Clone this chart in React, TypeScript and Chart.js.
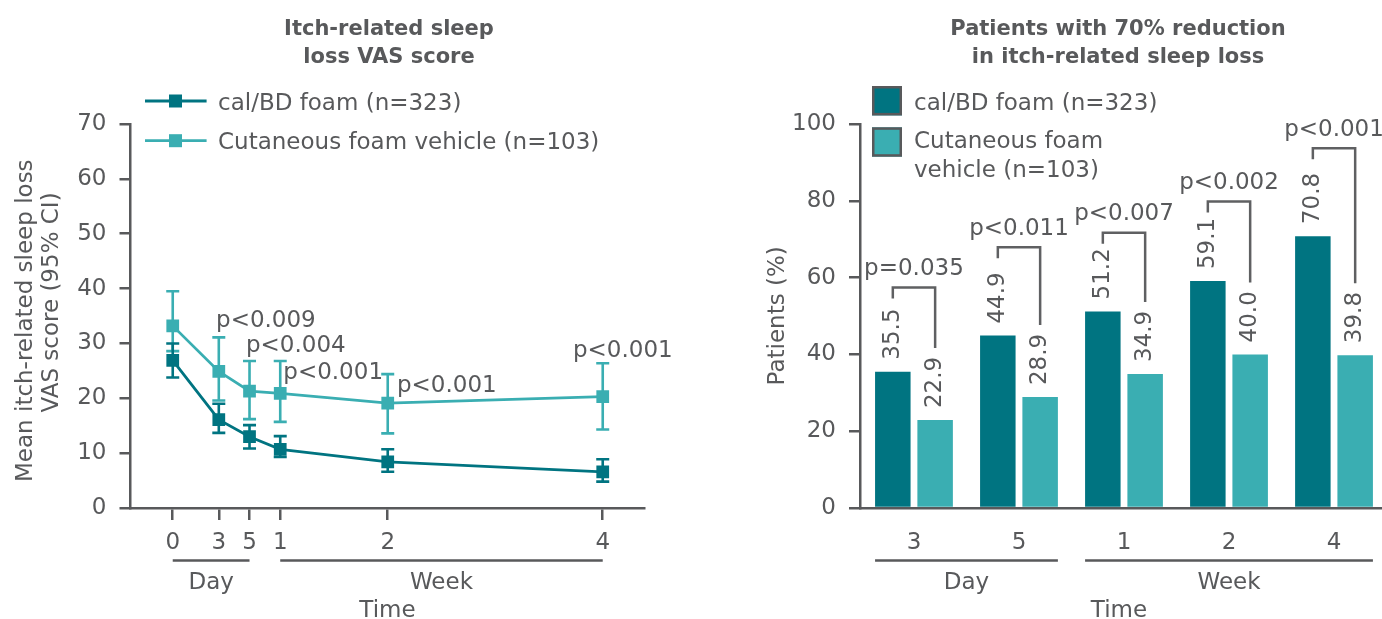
import React, { useEffect, useRef } from "react";
import { Chart, registerables } from "chart.js";

Chart.register(...registerables);

const FONT = "'DejaVu Sans', sans-serif";
const TEXT = "#58595b";
const AXIS = "#58595b";
const DARK = "#007481";
const LIGHT = "#3aaeb2";
const FS = 23;

// ---------- Left chart data ----------
const lineSeriesNames = ["cal/BD foam (n=323)", "Cutaneous foam vehicle (n=103)"];
const visitDays = [0, 3, 5, 7, 14, 28];
const visitTickLabels = ["0", "3", "5", "1", "2", "4"];
const calMean = [26.9, 16.1, 13.0, 10.7, 8.4, 6.6];
const calLow = [23.8, 13.7, 10.85, 9.3, 6.6, 4.8];
const calHigh = [30.0, 19.0, 15.1, 13.1, 10.7, 8.9];
const vehMean = [33.2, 24.9, 21.3, 20.9, 19.1, 20.3];
const vehLow = [28.6, 19.6, 16.2, 15.7, 13.6, 14.3];
const vehHigh = [39.5, 31.1, 26.8, 26.8, 24.4, 26.4];
const lineYTicks = [0, 70, 10];
const linePLabels = ["p<0.009", "p<0.004", "p<0.001", "p<0.001", "p<0.001"];
const linePAnchorDay = [2.82, 4.77, 7.2, 14.6, 26.06];
const linePAnchorValue = [32.94, 28.35, 23.5, 21.1, 27.5];
const lineGroupLabels = ["Day", "Week"];
const lineGroupFrom = [0, 7];
const lineGroupTo = [5, 28];

// ---------- Right chart data ----------
const barSeriesNames = ["cal/BD foam (n=323)", "Cutaneous foam vehicle (n=103)"];
const barCategories = ["3", "5", "1", "2", "4"];
const barCal = [35.5, 44.9, 51.2, 59.1, 70.8];
const barVeh = [22.9, 28.9, 34.9, 40.0, 39.8];
const barPLabels = ["p=0.035", "p<0.011", "p<0.007", "p<0.002", "p<0.001"];
const barBracketTop = [57.4, 67.9, 71.7, 79.8, 93.7];
const barGroupLabels = ["Day", "Week"];
const barGroupFrom = [0, 2];
const barGroupTo = [1, 4];

function drawText(
  ctx: CanvasRenderingContext2D,
  s: string,
  x: number,
  y: number,
  o: { font?: string; align?: CanvasTextAlign; baseline?: CanvasTextBaseline; color?: string; rotate?: number } = {}
) {
  ctx.save();
  ctx.font = o.font || `${FS}px ${FONT}`;
  ctx.fillStyle = o.color || TEXT;
  ctx.textAlign = o.align || "left";
  ctx.textBaseline = o.baseline || "alphabetic";
  ctx.translate(x, y);
  if (o.rotate) ctx.rotate(o.rotate);
  ctx.fillText(s, 0, 0);
  ctx.restore();
}

function hLine(ctx: CanvasRenderingContext2D, x1: number, x2: number, y: number, color = AXIS, w = 2.5) {
  ctx.save();
  ctx.strokeStyle = color;
  ctx.lineWidth = w;
  ctx.beginPath();
  ctx.moveTo(x1, y);
  ctx.lineTo(x2, y);
  ctx.stroke();
  ctx.restore();
}

const TITLE_FONT = `bold 21px ${FONT}`;

const leftPlugin = {
  id: "leftDecor",
  beforeDatasetsDraw(chart: any) {
    const ctx: CanvasRenderingContext2D = chart.ctx;
    const xs = chart.scales.x;
    const ys = chart.scales.y;
    const sets = [
      { lo: calLow, hi: calHigh, color: DARK },
      { lo: vehLow, hi: vehHigh, color: LIGHT },
    ];
    ctx.save();
    ctx.lineWidth = 2.6;
    for (let s = sets.length - 1; s >= 0; s--) {
      const set = sets[s];
      ctx.strokeStyle = set.color;
      visitDays.forEach((d, i) => {
        const x = xs.getPixelForValue(d);
        const y1 = ys.getPixelForValue(set.lo[i]);
        const y2 = ys.getPixelForValue(set.hi[i]);
        ctx.beginPath();
        ctx.moveTo(x, y1);
        ctx.lineTo(x, y2);
        ctx.moveTo(x - 6.5, y1);
        ctx.lineTo(x + 6.5, y1);
        ctx.moveTo(x - 6.5, y2);
        ctx.lineTo(x + 6.5, y2);
        ctx.stroke();
      });
    }
    ctx.restore();
  },
  afterDraw(chart: any) {
    const ctx: CanvasRenderingContext2D = chart.ctx;
    const xs = chart.scales.x;
    const ys = chart.scales.y;
    drawText(ctx, "Itch-related sleep", 389, 35, { font: TITLE_FONT, align: "center" });
    drawText(ctx, "loss VAS score", 389, 62.7, { font: TITLE_FONT, align: "center" });
    const colors = [DARK, LIGHT];
    const rowY = [101, 140.7];
    lineSeriesNames.forEach((name, i) => {
      hLine(ctx, 145, 206.6, rowY[i], colors[i], 2.8);
      ctx.save();
      ctx.fillStyle = colors[i];
      ctx.fillRect(175.5 - 6.5, rowY[i] - 6.5, 13, 13);
      ctx.restore();
      drawText(ctx, name, 218, rowY[i] + 8.5);
    });
    drawText(ctx, "Mean itch-related sleep loss", 31.5, 320.7, { align: "center", rotate: -Math.PI / 2 });
    drawText(ctx, "VAS score (95% CI)", 58, 302.5, { align: "center", rotate: -Math.PI / 2 });
    linePLabels.forEach((p, i) => {
      drawText(ctx, p, xs.getPixelForValue(linePAnchorDay[i]), ys.getPixelForValue(linePAnchorValue[i]));
    });
    lineGroupLabels.forEach((g, i) => {
      const x1 = xs.getPixelForValue(lineGroupFrom[i]);
      const x2 = xs.getPixelForValue(lineGroupTo[i]);
      hLine(ctx, x1, x2, 560.5);
      drawText(ctx, g, (x1 + x2) / 2, 589, { align: "center" });
    });
    drawText(ctx, "Time", (chart.chartArea.left + chart.chartArea.right) / 2, 617, { align: "center" });
  },
};

const rightPlugin = {
  id: "rightDecor",
  afterDatasetsDraw(chart: any) {
    const ctx: CanvasRenderingContext2D = chart.ctx;
    const ys = chart.scales.y;
    const m0 = chart.getDatasetMeta(0).data;
    const m1 = chart.getDatasetMeta(1).data;
    const vals = [barCal, barVeh];
    [m0, m1].forEach((meta: any[], s) => {
      meta.forEach((bar: any, i: number) => {
        drawText(ctx, vals[s][i].toFixed(1), bar.x, bar.y - 12, {
          baseline: "middle",
          rotate: -Math.PI / 2,
        });
      });
    });
    ctx.save();
    ctx.strokeStyle = "#5f6062";
    ctx.lineWidth = 2.5;
    barCategories.forEach((_, i) => {
      const a = m0[i];
      const b = m1[i];
      const top = ys.getPixelForValue(barBracketTop[i]);
      ctx.beginPath();
      ctx.moveTo(a.x, top + 11);
      ctx.lineTo(a.x, top);
      ctx.lineTo(b.x, top);
      ctx.lineTo(b.x, b.y - 72);
      ctx.stroke();
    });
    ctx.restore();
    barCategories.forEach((_, i) => {
      const top = ys.getPixelForValue(barBracketTop[i]);
      drawText(ctx, barPLabels[i], (m0[i].x + m1[i].x) / 2, top - 12.5, { align: "center" });
    });
  },
  afterDraw(chart: any) {
    const ctx: CanvasRenderingContext2D = chart.ctx;
    const off = 691;
    drawText(ctx, "Patients with 70% reduction", 1118 - off, 35, { font: TITLE_FONT, align: "center" });
    drawText(ctx, "in itch-related sleep loss", 1118 - off, 62.7, { font: TITLE_FONT, align: "center" });
    const boxTop = [86, 127.3];
    const colors = [DARK, LIGHT];
    ctx.save();
    boxTop.forEach((t, i) => {
      ctx.fillStyle = colors[i];
      ctx.fillRect(872 - off, t, 30, 29.4);
      ctx.strokeStyle = AXIS;
      ctx.lineWidth = 2.5;
      ctx.strokeRect(872 - off + 1.25, t + 1.25, 27.5, 26.9);
    });
    ctx.restore();
    drawText(ctx, "cal/BD foam (n=323)", 914 - off, 110);
    drawText(ctx, "Cutaneous foam", 914 - off, 148.3);
    drawText(ctx, "vehicle (n=103)", 914 - off, 176.7);
    drawText(ctx, "Patients (%)", 783.5 - off, 315.8, { align: "center", rotate: -Math.PI / 2 });
    const m0 = chart.getDatasetMeta(0).data;
    const m1 = chart.getDatasetMeta(1).data;
    barGroupLabels.forEach((g, i) => {
      const a = m0[barGroupFrom[i]];
      const b = m1[barGroupTo[i]];
      const x1 = a.x - a.width / 2;
      const x2 = b.x + b.width / 2;
      hLine(ctx, x1, x2, 560.5);
      drawText(ctx, g, (x1 + x2) / 2, 589, { align: "center" });
    });
    drawText(ctx, "Time", 1119 - off, 617, { align: "center" });
  },
};

const tickFont = { family: FONT, size: FS };

function leftConfig(): any {
  const ds = (label: string, mean: number[], color: string) => ({
    label,
    data: visitDays.map((d, i) => ({ x: d, y: mean[i] })),
    borderColor: color,
    backgroundColor: color,
    borderWidth: 2.8,
    pointStyle: "rect",
    pointRadius: 9,
    pointHoverRadius: 9,
    pointBorderWidth: 0,
    tension: 0,
  });
  return {
    type: "line",
    data: {
      datasets: [ds(lineSeriesNames[0], calMean, DARK), ds(lineSeriesNames[1], vehMean, LIGHT)],
    },
    options: {
      animation: false,
      responsive: true,
      maintainAspectRatio: false,
      events: [],
      layout: { padding: { left: 0, right: 46.5, top: 124, bottom: 0 } },
      plugins: { legend: { display: false }, tooltip: { enabled: false } },
      scales: {
        x: {
          type: "linear",
          offset: false,
          min: -2.75,
          max: 30.72,
          afterBuildTicks: (s: any) => {
            s.ticks = visitDays.map((v) => ({ value: v }));
          },
          afterFit: (s: any) => {
            s.height = 111;
          },
          grid: { drawOnChartArea: false, drawTicks: true, tickLength: 12, color: AXIS, lineWidth: 2.5 },
          border: { color: AXIS, width: 2.5 },
          ticks: {
            autoSkip: false,
            maxRotation: 0,
            padding: 9,
            color: TEXT,
            font: tickFont,
            callback: (v: number) => {
              const k = visitDays.indexOf(v);
              return k >= 0 ? visitTickLabels[k] : "";
            },
          },
        },
        y: {
          min: lineYTicks[0],
          max: lineYTicks[1],
          afterFit: (s: any) => {
            s.width = 130.5;
          },
          grid: { drawOnChartArea: false, drawTicks: true, tickLength: 11, color: AXIS, lineWidth: 2.5 },
          border: { color: AXIS, width: 2.5 },
          ticks: { stepSize: lineYTicks[2], padding: 13, color: TEXT, font: tickFont },
        },
      },
    },
    plugins: [leftPlugin],
  };
}

function rightConfig(): any {
  const ds = (label: string, vals: number[], color: string) => ({
    label,
    data: barCategories.map((_, i) => ({ x: i, y: vals[i] })),
    backgroundColor: color,
    borderWidth: 0,
    categoryPercentage: 0.806,
    barPercentage: 0.839,
  });
  return {
    type: "bar",
    data: {
      datasets: [ds(barSeriesNames[0], barCal, DARK), ds(barSeriesNames[1], barVeh, LIGHT)],
    },
    options: {
      animation: false,
      responsive: true,
      maintainAspectRatio: false,
      events: [],
      layout: { padding: { left: 0, right: 0, top: 124, bottom: 0 } },
      plugins: { legend: { display: false }, tooltip: { enabled: false } },
      scales: {
        x: {
          type: "linear",
          offset: false,
          min: -0.514,
          max: 4.457,
          afterBuildTicks: (s: any) => {
            s.ticks = barCategories.map((_, i) => ({ value: i }));
          },
          afterFit: (s: any) => {
            s.height = 111;
          },
          grid: { display: false, drawTicks: false, offset: false },
          border: { color: AXIS, width: 2.5 },
          ticks: {
            autoSkip: false,
            maxRotation: 0,
            padding: 21,
            color: TEXT,
            font: tickFont,
            callback: (v: number) => barCategories[v] ?? "",
          },
        },
        y: {
          min: 0,
          max: 100,
          afterFit: (s: any) => {
            s.width = 169;
          },
          grid: { drawOnChartArea: false, drawTicks: true, tickLength: 11, color: AXIS, lineWidth: 2.5 },
          border: { color: AXIS, width: 2.5 },
          ticks: { stepSize: 20, padding: 13, color: TEXT, font: tickFont },
        },
      },
    },
    plugins: [rightPlugin],
  };
}

export default function App() {
  const leftRef = useRef<HTMLCanvasElement>(null);
  const rightRef = useRef<HTMLCanvasElement>(null);
  useEffect(() => {
    const c1 = new Chart(leftRef.current as HTMLCanvasElement, leftConfig());
    const c2 = new Chart(rightRef.current as HTMLCanvasElement, rightConfig());
    return () => {
      c1.destroy();
      c2.destroy();
    };
  }, []);
  return (
    <div style={{ position: "absolute", left: 0, top: 0, width: 1382, height: 619, background: "#fff" }}>
      <div style={{ position: "absolute", left: 0, top: 0, width: 691, height: 619 }}>
        <canvas ref={leftRef} />
      </div>
      <div style={{ position: "absolute", left: 691, top: 0, width: 691, height: 619 }}>
        <canvas ref={rightRef} />
      </div>
    </div>
  );
}
